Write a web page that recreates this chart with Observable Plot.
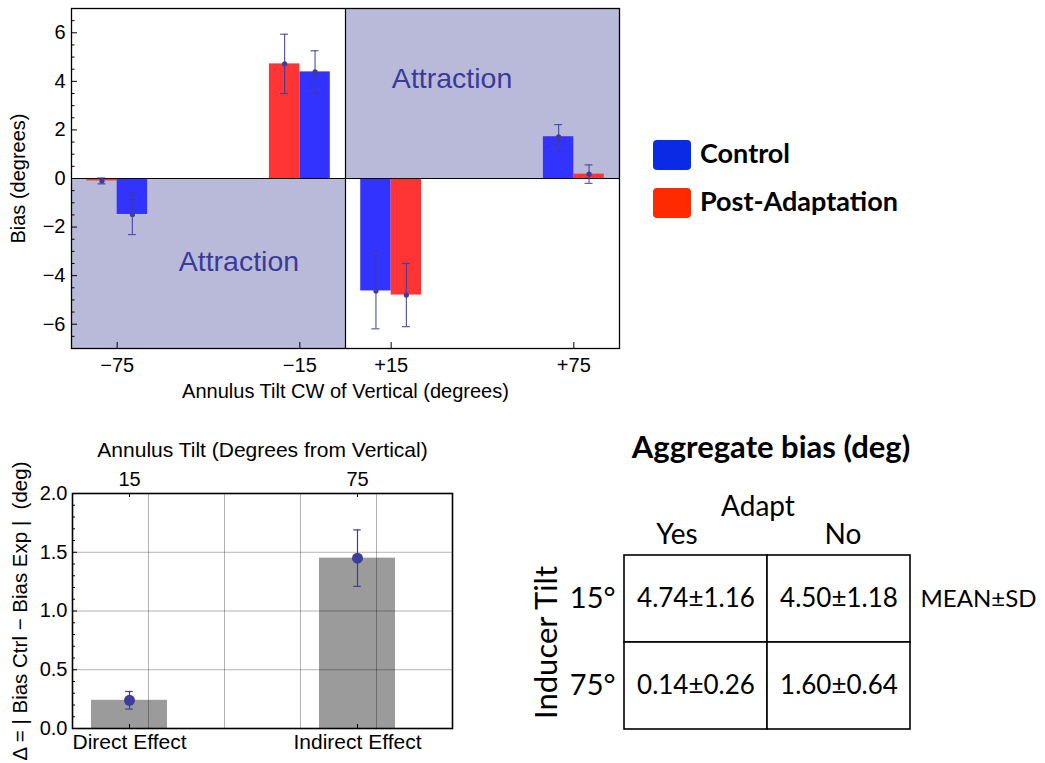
<!DOCTYPE html>
<html><head><meta charset="utf-8">
<script src="https://cdn.jsdelivr.net/npm/d3@7"></script>
<script src="https://cdn.jsdelivr.net/npm/@observablehq/plot@0.6"></script>
<style>
body{margin:0;background:#fff;}
#root{position:relative;width:1045px;height:763px;overflow:hidden;background:#fff;}
.panel{position:absolute;}
.leg{position:absolute;left:653px;display:flex;align-items:center;font-family:Lato,"Open Sans",sans-serif;font-weight:bold;font-size:27px;color:#000;white-space:nowrap;}
.sw{width:38px;height:30px;border-radius:4px;margin-right:9px;}
</style></head>
<body><div id="root"></div>
<script>
// ---------- data: top panel ----------
const tilts = [-75, -15, 15, 75];
const tiltLabels = ["−75", "−15", "+15", "+75"];
const series = ["Control", "Post-Adaptation"];
const controlBias = [-1.48, 4.39, -4.63, 1.72];
const controlErr  = [0.83, 0.87, 1.56, 0.50];
const postBias    = [-0.10, 4.72, -4.80, 0.18];
const postErr     = [0.12, 1.22, 1.30, 0.38];
const biasTicks = [-6, -4, -2, 0, 2, 4, 6];
const regionLabel = "Attraction";
const regionLabelAt = [{x: -35, y: -3.45}, {x: 35, y: 4.1}];

// ---------- data: bottom-left panel ----------
const effectNames = ["Direct Effect", "Indirect Effect"];
const effectTilts = ["15", "75"];
const effectDelta = [0.24, 1.45];
const effectErr   = [0.075, 0.24];
const deltaTicks = [0, 0.5, 1, 1.5, 2];

// ---------- data: table ----------
const adaptCols = ["Yes", "No"];
const inducerRows = ["15°", "75°"];
const aggYes = ["4.74±1.16", "0.14±0.26"];
const aggNo  = ["4.50±1.18", "1.60±0.64"];

// ---------- styles ----------
const blueBar = "#3333ff", redBar = "#ff3434";
const shade = "#b9bad9";
const errCol = "#3d3d9e";
const mmaFont = "'Liberation Sans', Arial, Helvetica, sans-serif";
const root = document.getElementById("root");
function place(node, left, top) { node.classList.add("panel"); node.style.left = left + "px"; node.style.top = top + "px"; root.appendChild(node); }

// ================= TOP PANEL =================
{
  const W = 630, H = 410, ml = 71, mr = 11, mt = 8, mb = 62;
  const xDom = [-90, 90], yDom = [-7, 7];
  const kx = (xDom[1] - xDom[0]) / (W - ml - mr);
  const ky = (yDom[1] - yDom[0]) / (H - mt - mb);
  const bw = 10;
  const bars = [];
  tilts.forEach((t, i) => {
    const neg = t < 0;
    bars.push({series: "Control", x1: neg ? t : t - bw, x2: neg ? t + bw : t, v: controlBias[i], e: controlErr[i]});
    bars.push({series: "Post-Adaptation", x1: neg ? t - bw : t, x2: neg ? t : t + bw, v: postBias[i], e: postErr[i]});
  });
  const cx = d => (d.x1 + d.x2) / 2;
  const regions = [
    {x1: xDom[0], x2: 0, y1: yDom[0], y2: 0},
    {x1: 0, x2: xDom[1], y1: 0, y2: yDom[1]}
  ];
  const minor = d3.range(yDom[0] * 2, yDom[1] * 2 + 1).map(k => k / 2);
  const cap = 1.3;
  const p = Plot.plot({
    width: W, height: H, marginLeft: ml, marginRight: mr, marginTop: mt, marginBottom: mb,
    style: {fontFamily: mmaFont, fontSize: "20px", background: "transparent", overflow: "visible", color: "#000"},
    x: {domain: xDom, axis: null},
    y: {domain: yDom, axis: null},
    color: {domain: series, range: [blueBar, redBar]},
    marks: [
      Plot.rect(regions, {x1: "x1", x2: "x2", y1: "y1", y2: "y2", fill: shade}),
      Plot.rect(bars, {x1: "x1", x2: "x2", y1: () => 0, y2: "v", fill: "series"}),
      Plot.ruleY([0], {stroke: "#000", strokeWidth: 1.2}),
      Plot.ruleX([0], {stroke: "#000", strokeWidth: 1.2}),
      Plot.frame({stroke: "#000", strokeWidth: 1.3}),
      Plot.ruleY(minor, {y: d => d, x1: xDom[0], x2: d => xDom[0] + (d % 2 === 0 ? 6 : 3.5) * kx, stroke: "#000", strokeWidth: 1}),
      Plot.ruleX(tilts, {x: d => d, y1: yDom[0], y2: yDom[0] + 6 * ky, stroke: "#000", strokeWidth: 1}),
      Plot.axisY({ticks: biasTicks, tickSize: 0, tickPadding: 6, fontSize: 20, label: null}),
      Plot.axisX({ticks: tilts, tickFormat: d => tiltLabels[tilts.indexOf(d)], tickSize: 0, tickPadding: 9, fontSize: 20, label: null}),
      Plot.ruleX(bars, {x: cx, y1: d => d.v - d.e, y2: d => d.v + d.e, stroke: errCol, strokeWidth: 1.2, strokeOpacity: 0.85}),
      Plot.ruleY(bars, {y: d => d.v + d.e, x1: d => cx(d) - cap, x2: d => cx(d) + cap, stroke: errCol, strokeWidth: 1.2, strokeOpacity: 0.85}),
      Plot.ruleY(bars, {y: d => d.v - d.e, x1: d => cx(d) - cap, x2: d => cx(d) + cap, stroke: errCol, strokeWidth: 1.2, strokeOpacity: 0.85}),
      Plot.dot(bars, {x: cx, y: "v", r: 2.6, fill: errCol, stroke: "none"}),
      Plot.text(regionLabelAt, {x: "x", y: "y", text: () => regionLabel, fill: "#3a3a9c", fontSize: 28.5}),
      Plot.text(["Bias (degrees)"], {frameAnchor: "left", textAnchor: "middle", lineAnchor: "middle", dx: -53, rotate: -90, fontSize: 20}),
      Plot.text(["Annulus Tilt CW of Vertical (degrees)"], {frameAnchor: "bottom", lineAnchor: "middle", dy: 43, fontSize: 20})
    ]
  });
  place(p, 0, 0);
}

// ================= LEGEND =================
{
  const cols = ["#0a2be6", "#ff2a00"];
  const tops = [138, 186];
  series.forEach((s, i) => {
    const row = document.createElement("div");
    row.className = "leg";
    row.style.top = tops[i] + "px";
    const sw = document.createElement("div");
    sw.className = "sw"; sw.style.background = cols[i];
    const t = document.createElement("span");
    t.textContent = s;
    t.style.position = "relative"; t.style.top = "-2px";
    row.appendChild(sw); row.appendChild(t);
    root.appendChild(row);
  });
}

// ================= BOTTOM-LEFT PANEL =================
{
  const W = 470, H = 333, ml = 72, mr = 18, mt = 63, mb = 35;
  const xDom = [0, 5], yDom = [0, 2];
  const kx = (xDom[1] - xDom[0]) / (W - ml - mr);
  const ky = (yDom[1] - yDom[0]) / (H - mt - mb);
  const slot = i => 0.75 + 3 * i;
  const effects = effectNames.map((n, i) => ({name: n, tilt: effectTilts[i], pos: slot(i), v: effectDelta[i], e: effectErr[i]}));
  const slots = effects.map(d => d.pos);
  const minor = d3.range(0, 21).map(k => k / 10);
  const gridXs = d3.range(1, 5);
  const gridYs = [0.5, 1, 1.5];
  const cap = 0.05;
  const p = Plot.plot({
    width: W, height: H, marginLeft: ml, marginRight: mr, marginTop: mt, marginBottom: mb,
    style: {fontFamily: mmaFont, fontSize: "21px", background: "transparent", overflow: "visible", color: "#000"},
    x: {domain: xDom, axis: null},
    y: {domain: yDom, axis: null},
    marks: [
      Plot.rect(effects, {x1: d => d.pos - 0.5, x2: d => d.pos + 0.5, y1: () => 0, y2: "v", fill: "#9b9b9b"}),
      Plot.ruleX(gridXs, {stroke: "#000", strokeOpacity: 0.3, strokeWidth: 1}),
      Plot.ruleY(gridYs, {stroke: "#000", strokeOpacity: 0.3, strokeWidth: 1}),
      Plot.frame({stroke: "#000", strokeWidth: 1.6}),
      Plot.ruleY(minor, {y: d => d, x1: xDom[0], x2: d => xDom[0] + (Math.round(d * 10) % 5 === 0 ? 5 : 3) * kx, stroke: "#000", strokeWidth: 1}),
      Plot.ruleX(slots, {x: d => d, y1: yDom[0], y2: yDom[0] + 4 * ky, stroke: "#000", strokeWidth: 1}),
      Plot.ruleX(slots, {x: d => d, y1: yDom[1], y2: yDom[1] - 4 * ky, stroke: "#000", strokeWidth: 1}),
      Plot.axisY({ticks: deltaTicks, tickFormat: d3.format(".1f"), tickSize: 0, tickPadding: 5, fontSize: 20, label: null}),
      Plot.axisX({anchor: "top", ticks: slots, tickFormat: d => effectTilts[slots.indexOf(d)], tickSize: 0, tickPadding: 8, fontSize: 20, label: null}),
      Plot.axisX({anchor: "bottom", ticks: slots, tickFormat: d => effectNames[slots.indexOf(d)], tickSize: 0, tickPadding: 6, fontSize: 21, label: null}),
      Plot.ruleX(effects, {x: "pos", y1: d => d.v - d.e, y2: d => d.v + d.e, stroke: errCol, strokeWidth: 1.2}),
      Plot.ruleY(effects, {y: d => d.v + d.e, x1: d => d.pos - cap, x2: d => d.pos + cap, stroke: errCol, strokeWidth: 1.2}),
      Plot.ruleY(effects, {y: d => d.v - d.e, x1: d => d.pos - cap, x2: d => d.pos + cap, stroke: errCol, strokeWidth: 1.2}),
      Plot.dot(effects, {x: "pos", y: "v", r: 5.5, fill: errCol, stroke: "none"}),
      Plot.text(["Annulus Tilt (Degrees from Vertical)"], {frameAnchor: "top", lineAnchor: "middle", dy: -43, fontSize: 21}),
      Plot.text(["Δ = | Bias Ctrl − Bias Exp |  (deg)"], {frameAnchor: "left", textAnchor: "middle", lineAnchor: "middle", dx: -52, rotate: -90, fontSize: 20.5})
    ]
  });
  place(p, 0, 430);
}

// ================= TABLE PANEL =================
{
  const W = 525, H = 333, ml = 103, mr = 135, mt = 125, mb = 34;
  const cells = [];
  inducerRows.forEach((r, i) => {
    cells.push({row: r, col: adaptCols[0], val: aggYes[i]});
    cells.push({row: r, col: adaptCols[1], val: aggNo[i]});
  });
  const cal = "Lato, 'Open Sans', sans-serif";
  const headerShift = [-19, 4];
  const p = Plot.plot({
    width: W, height: H, marginLeft: ml, marginRight: mr, marginTop: mt, marginBottom: mb,
    style: {fontFamily: cal, fontSize: "26px", background: "transparent", overflow: "visible", color: "#000"},
    x: {domain: adaptCols, padding: 0, axis: null},
    y: {domain: inducerRows, padding: 0, axis: null},
    marks: [
      Plot.cell(cells, {x: "col", y: "row", fill: "white", stroke: "#000", strokeWidth: 1.6}),
      Plot.text(cells, {x: "col", y: "row", text: "val", fontSize: 26}),
      ...adaptCols.map((c, i) => Plot.text([c], {x: d => d, text: d => d, frameAnchor: "top", lineAnchor: "bottom", dy: -12, dx: headerShift[i], fontSize: 28})),
      Plot.axisY({anchor: "left", tickSize: 0, tickPadding: 8, fontSize: 29, label: null}),
      Plot.text(["Adapt"], {frameAnchor: "top", lineAnchor: "middle", dy: -48, dx: -9, fontSize: 28}),
      Plot.text(["Inducer Tilt"], {frameAnchor: "left", textAnchor: "middle", lineAnchor: "middle", dx: -76, rotate: -90, fontSize: 31}),
      Plot.text(["Aggregate bias (deg)"], {frameAnchor: "top", lineAnchor: "middle", dy: -107, dx: 4, fontSize: 31, fontWeight: "bold"}),
      Plot.text(["MEAN±SD"], {y: () => inducerRows[0], frameAnchor: "right", dx: 10, textAnchor: "start", fontSize: 24})
    ]
  });
  place(p, 520, 430);
}
</script>
</body></html>
